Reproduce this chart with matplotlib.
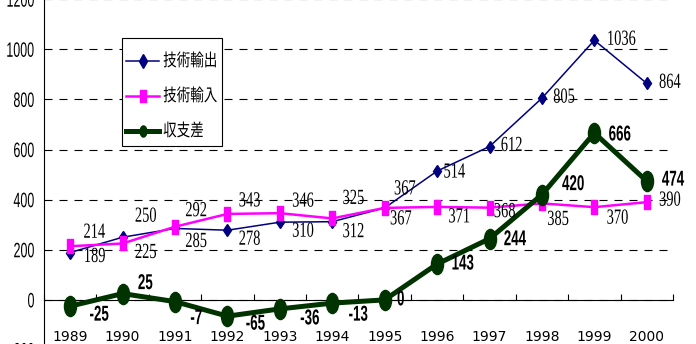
import matplotlib
matplotlib.use("Agg")
import matplotlib.pyplot as plt
from matplotlib import patheffects
from matplotlib.path import Path
from matplotlib.patches import Rectangle
from matplotlib.transforms import Affine2D
from matplotlib.lines import Line2D

# --- data ---
years = ["1989", "1990", "1991", "1992", "1993", "1994",
         "1995", "1996", "1997", "1998", "1999", "2000"]
export_vals = [189, 250, 285, 278, 310, 312, 367, 514, 612, 805, 1036, 864]
import_vals = [214, 225, 292, 343, 346, 325, 367, 371, 368, 385, 370, 390]
balance_vals = [-25, 25, -7, -65, -36, -13, 0, 143, 244, 420, 666, 474]
series_names = ["技術輸出", "技術輸入", "収支差"]
y_ticks = [-200, 0, 200, 400, 600, 800, 1000, 1200]

# label offsets (pixels, right / down) for each point
export_off = [(13, 5), (12, -20), (10, 14), (11, 10), (12, 10), (10, 11),
              (9, -18), (6, 2), (11, 0), (11, 0), (12, 0), (12, 0)]
import_off = [(13, -13), (12, 10), (10, -15), (11, -12), (12, -11), (10, -19),
              (5, 12), (11, 11), (4, 5), (5, 17), (12, 12), (12, -1)]
balance_off = [(19, 9), (15, -10), (15, 17), (18, 8), (20, 10), (16, 12),
               (12, 0), (14, 0), (14, 1), (20, -10), (14, 2), (15, -1)]

W, H = 696, 344
SANS = "Liberation Sans"
SERIF = "Liberation Serif"
CJK = "Noto Sans CJK JP"

NAVY = "#000080"
MAGENTA = "#FF00FF"
GREEN = "#003300"


class Squeeze(patheffects.AbstractPathEffect):
    """Draw text narrower, keeping a point of its ink box in place
    (anchor 0 = left edge, 0.5 = centre, 1 = right edge)."""

    def __init__(self, sx, anchor=0.0):
        super().__init__()
        self.sx = sx
        self.anchor = anchor

    def draw_path(self, renderer, gc, tpath, affine, rgbFace=None):
        ext = tpath.get_extents()
        p = ext.x0 + self.anchor * ext.width
        squeeze = Affine2D().translate(-p, 0).scale(self.sx, 1).translate(p, 0)
        renderer.draw_path(gc, tpath, squeeze + affine, rgbFace)


def fig_xy(px, py):
    # pixel position (from top-left) -> figure fraction
    return px / W, 1 - py / H


# tall ellipse / tall rectangle markers
ellipse = Path.unit_circle().transformed(Affine2D().scale(0.6, 1.0))
tall_rect = Path([(-0.25, -0.5), (0.25, -0.5), (0.25, 0.5), (-0.25, 0.5), (-0.25, -0.5)],
                 [Path.MOVETO, Path.LINETO, Path.LINETO, Path.LINETO, Path.CLOSEPOLY])

styles = [
    dict(color=NAVY, lw=1.1, marker="d", ms=6.6),
    dict(color=MAGENTA, lw=1.8, marker=tall_rect, ms=9.5),
    dict(color=GREEN, lw=3.6, marker=ellipse, ms=14.5),
]
legend_ms = [7.6, 9, 8]

fig = plt.figure(figsize=(W / 100, H / 100), dpi=100)
ax = fig.add_axes([0.0632, -0.0174, 0.9037, 1.0198])

x = list(range(len(years)))
for z, (vals, st) in enumerate(zip([export_vals, import_vals, balance_vals], styles)):
    ax.plot(x, vals, zorder=3 + z, **st)

label_styles = [
    (export_vals, export_off, SERIF, "normal", 0.67),
    (import_vals, import_off, SERIF, "normal", 0.67),
    (balance_vals, balance_off, SANS, "bold", 0.62),
]
for vals, offs, fam, wt, sx in label_styles:
    for i, (v, (dx, dy)) in enumerate(zip(vals, offs)):
        ax.annotate(str(v), (i, v), xytext=(dx, -dy), textcoords="offset pixels",
                    ha="left", va="center", fontsize=15.5, family=fam,
                    weight=wt, color="black", zorder=6,
                    path_effects=[Squeeze(sx, 0.0)])

ax.set_xlim(-0.5, len(years) - 0.5)
ax.set_ylim(-200, 1200)
ax.set_yticks(y_ticks)
ax.set_yticklabels([str(t) for t in y_ticks], family=SANS, fontsize=15)
ax.set_xticks(x)
ax.set_xticklabels(years, family=SANS, fontsize=15)
ax.set_xticks([i - 0.5 for i in range(len(years) + 1)], minor=True)
ax.tick_params(axis="x", which="major", length=0, pad=21.5)
ax.tick_params(axis="x", which="minor", direction="in", length=4.5, width=0.8)
ax.tick_params(axis="y", length=0, pad=6.5)
for t in ax.get_yticklabels():
    t.set_path_effects([Squeeze(0.6, 1.0)])
for t in ax.get_xticklabels():
    t.set_path_effects([Squeeze(0.6, 0.5)])

ax.spines["top"].set_visible(False)
ax.spines["right"].set_visible(False)
ax.spines["bottom"].set_position(("data", 0))
for s in ("left", "bottom"):
    ax.spines[s].set_linewidth(0.8)

ax.grid(axis="y", color="black", lw=0.8, linestyle=(0, (7.2, 6.3)))
ax.set_axisbelow(True)

# legend box drawn by hand so the narrow text keeps the frame tight
fig.add_artist(Rectangle(fig_xy(122, 146), 100 / W, 108 / H, transform=fig.transFigure,
                         facecolor="white", edgecolor="black", lw=0.8, zorder=7))
for row, (name, st, ms) in enumerate(zip(series_names, styles, legend_ms)):
    py = 61 + 35 * row
    (x0, y0), (x1, _) = fig_xy(126, py), fig_xy(159, py)
    fig.add_artist(Line2D([x0, (x0 + x1) / 2, x1], [y0] * 3, transform=fig.transFigure,
                          markevery=[1], zorder=8, **{**st, "ms": ms}))
    tx, ty = fig_xy(163, py)
    fig.text(tx, ty, name, ha="left", va="center", family=CJK, fontsize=12.5,
             zorder=8, path_effects=[Squeeze(0.78, 0.0)])

fig.savefig("out.png", dpi=100)
